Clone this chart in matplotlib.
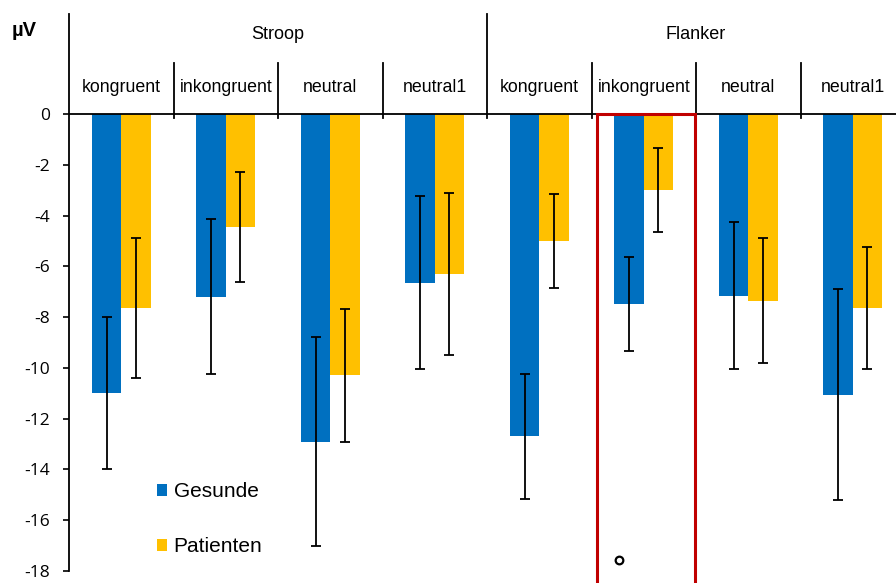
import matplotlib
matplotlib.use("Agg")
import matplotlib.pyplot as plt
import numpy as np

# ERP amplitudes (µV) per task and condition
groups = ["Stroop", "Flanker"]
conditions = ["kongruent", "inkongruent", "neutral", "neutral1",
              "kongruent", "inkongruent", "neutral", "neutral1"]
gesunde = [-11.0, -7.2, -12.9, -6.65, -12.7, -7.5, -7.15, -11.05]
gesunde_err = [3.0, 3.05, 4.1, 3.4, 2.45, 1.85, 2.9, 4.15]
patienten = [-7.65, -4.45, -10.3, -6.3, -5.0, -3.0, -7.35, -7.65]
patienten_err = [2.75, 2.15, 2.6, 3.2, 1.85, 1.65, 2.45, 2.4]
yticks = [0, -2, -4, -6, -8, -10, -12, -14, -16, -18]
marker_point = (4.76, -17.57)

BLUE = "#0070C0"
YELLOW = "#FFC000"
RED = "#C00000"
HEAD_FONT = "Liberation Sans"

fig = plt.figure(figsize=(8.96, 5.83), dpi=100)
ax = fig.add_axes([69 / 896, 12 / 583, 836 / 896, (571 - 14) / 583])

x = np.arange(len(conditions))
w = 0.282
ax.bar(x - w / 2, gesunde, w, color=BLUE, edgecolor="none", label="Gesunde", zorder=2)
ax.bar(x + w / 2, patienten, w, color=YELLOW, edgecolor="none", label="Patienten", zorder=2)
eb = dict(fmt="none", ecolor="black", elinewidth=1.3, capsize=3.6, capthick=1.3, zorder=3)
ax.errorbar(x - w / 2, gesunde, yerr=gesunde_err, **eb)
ax.errorbar(x + w / 2, patienten, yerr=patienten_err, **eb)

ax.set_xlim(-0.5, len(conditions) - 0.5)
top = (114 - 14) / 25.4
ax.set_ylim(-18, top)
ax.set_yticks(yticks)
ax.set_yticklabels([str(t) for t in yticks], fontfamily="Open Sans", fontsize=12.5)
ax.tick_params(axis="y", direction="out", length=4.5, width=1.2, pad=9)
ax.tick_params(axis="x", bottom=False, labelbottom=False)
for s in ("top", "right", "bottom"):
    ax.spines[s].set_visible(False)
ax.spines["left"].set_linewidth(1.3)
ax.spines["left"].set_bounds(-18, top)

# zero line
ax.axhline(0, color="black", lw=1.3, zorder=4)

# header separators
for i in range(1, len(conditions)):
    if i == 4:
        ax.plot([i - 0.5, i - 0.5], [top, -0.16], color="black", lw=1.3, clip_on=False)
    else:
        ax.plot([i - 0.5, i - 0.5], [2.0, -0.16], color="black", lw=1.3, clip_on=False)

# header labels
for gi, g in enumerate(groups):
    ax.text(gi * 4 + 1.5, 3.11, g, ha="center", va="center",
            fontfamily=HEAD_FONT, fontsize=13)
for i, c in enumerate(conditions):
    ax.text(i, 1.06, c, ha="center", va="center", fontfamily=HEAD_FONT, fontsize=12.8)

fig.text(12 / 896, 1 - 30 / 583, "µV", ha="left", va="center",
         fontfamily=HEAD_FONT, fontsize=14.5, fontweight="bold")

# highlight box around Flanker inkongruent
ax.plot([4.55, 4.55, 5.49, 5.49], [-18.45, 0, 0, -18.45], color=RED, lw=2.2,
        clip_on=False, zorder=5, solid_joinstyle="miter")
ax.plot(*marker_point, marker="o", ms=5.5, mfc="white", mec="black", mew=1.6,
        clip_on=False, zorder=6)

leg = ax.legend(loc="upper left", bbox_to_anchor=(157 / 896, 1 - 482 / 583),
                bbox_transform=fig.transFigure, frameon=False,
                prop={"family": HEAD_FONT, "size": 15},
                handlelength=0.5, handleheight=0.5, handletextpad=0.3,
                labelspacing=1.75, borderpad=0, borderaxespad=0)

fig.savefig("out.png", dpi=100)
